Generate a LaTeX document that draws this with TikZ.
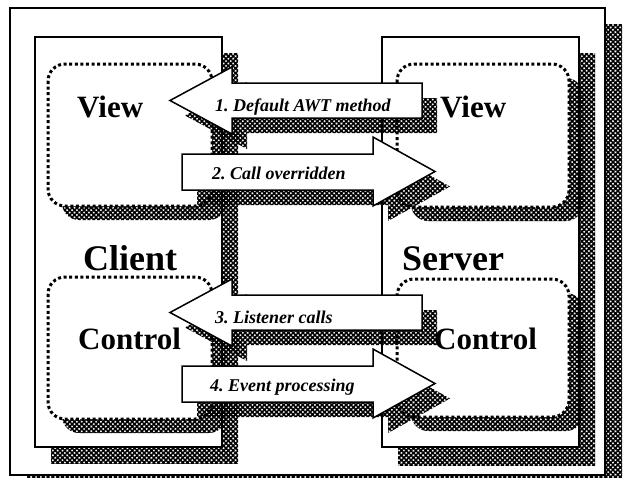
\documentclass[tikz,border=0pt]{standalone}
\usepackage{fontspec}
\setmainfont{Liberation Serif}
\usetikzlibrary{patterns.meta}

\tikzset{
  hatchfill/.style={pattern={Hatch[angle=45,distance=3.4pt,line width=1.6pt]}, pattern color=black},
  frameline/.style={draw=black, line width=1.5pt, fill=white},
  dotline/.style={draw=black, fill=white, line width=3pt, line cap=butt,
                  dash pattern=on 3pt off 2.6pt, rounded corners=17pt},
  blockarrow/.style={draw=black, fill=white, line width=1.5pt, line join=miter},
  sideword/.style={font=\bfseries\fontsize{36}{40}\selectfont, anchor=base west, inner sep=0pt},
  partword/.style={font=\bfseries\fontsize{31}{36}\selectfont, anchor=base west, inner sep=0pt},
  steplabel/.style={font=\frenchspacing\bfseries\itshape\fontsize{18}{20}\selectfont, anchor=base west, inner sep=0pt},
}

% outlines of the two block arrows (left-pointing and right-pointing)
\newcommand\leftblock{(170,100.5) -- (232,67) -- (232,83) -- (422,83) -- (422,118) -- (232,118) -- (232,134) -- cycle}
\newcommand\rightblock{(435,171.5) -- (373,206) -- (373,190) -- (182,190) -- (182,154) -- (373,154) -- (373,137) -- cycle}

\begin{document}
\begin{tikzpicture}[x=1pt,y=-1pt]
\useasboundingbox (0,0) rectangle (623,477);
\clip (0,0) rectangle (623,477);

% outer frame with its shadow
\fill[hatchfill] (27,24) rectangle (622,492);
\path[frameline] (10,8) rectangle (605,475);

% client and server panels
\fill[hatchfill] (51,53) rectangle (238,463);
\fill[hatchfill] (398,53) rectangle (595,465);
\path[frameline] (35,37) rectangle (222,447);
\path[frameline] (382,37) rectangle (579,447);

% dotted view / control regions
\fill[hatchfill, rounded corners=17pt] (62,78) rectangle (226,220);
\fill[hatchfill, rounded corners=17pt] (62,291) rectangle (226,433);
\fill[hatchfill, rounded corners=17pt] (411,78) rectangle (583,221);
\fill[hatchfill, rounded corners=17pt] (411,293) rectangle (583,431);
\path[dotline] (48,64) rectangle (212,206);
\path[dotline] (48,277) rectangle (212,419);
\path[dotline] (397,64) rectangle (569,207);
\path[dotline] (397,279) rectangle (569,417);

% panel and region titles
\node[sideword] (client) at (83,270) {Client};
\node[sideword] (server) at (402,270) {Server};
\node[partword] (cview) at (77,117) {View};
\node[partword] (ccontrol) at (78,349) {Control};
\node[partword] (sview) at (440,117) {View};
\node[partword] (scontrol) at (434,349) {Control};

% block arrows between client and server
\fill[hatchfill, shift={(15,15)}] \leftblock;
\path[blockarrow] \leftblock;
\fill[hatchfill, shift={(15,15)}] \rightblock;
\path[blockarrow] \rightblock;
\fill[hatchfill, shift={(15,227)}] \leftblock;
\path[blockarrow, shift={(0,212)}] \leftblock;
\fill[hatchfill, shift={(15,227)}] \rightblock;
\path[blockarrow, shift={(0,212)}] \rightblock;

\node[steplabel] (step1) at (215,111) {1. Default AWT method};
\node[steplabel] (step2) at (212,179) {2. Call overridden};
\node[steplabel] (step3) at (215,323) {3. Listener calls};
\node[steplabel] (step4) at (210,391) {4. Event processing};
\end{tikzpicture}
\end{document}
